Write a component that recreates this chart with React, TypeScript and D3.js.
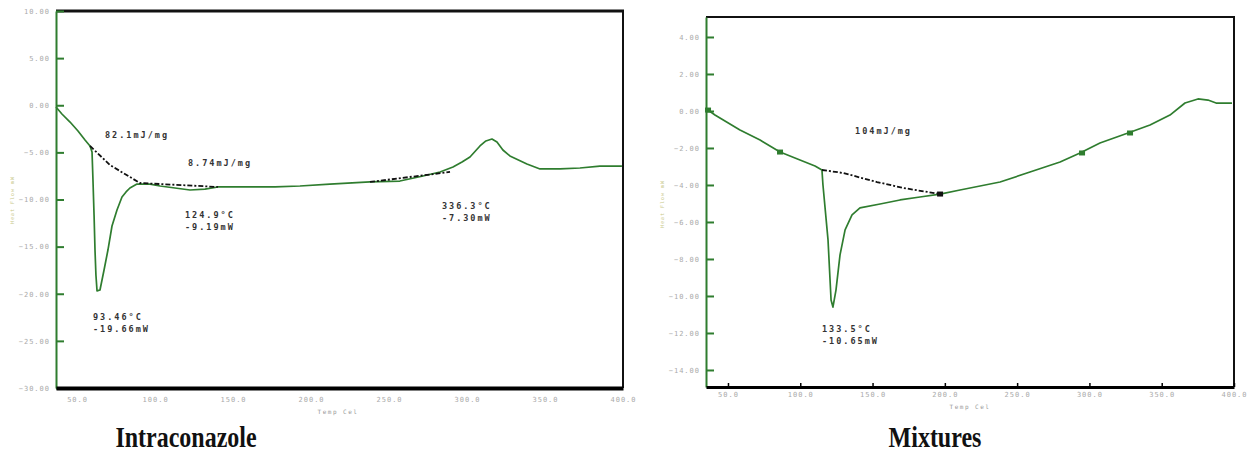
import * as d3 from "d3";
import React, { useEffect, useRef } from "react";

// Intraconazole DSC trace (temperature, heat flow)
const leftTemp = [36.5, 40.3, 45.5, 50.6, 55.1, 58.3, 59.6, 60.2, 60.9, 61.5, 62.1, 62.8, 64.7, 67.3, 69.8, 72.4, 75.6, 78.8, 81.4, 83.9, 88.4, 96.8, 103.2, 112.8, 122.4, 132.0, 140.3, 160.9, 176.9, 192.9, 212.1, 237.8, 257.0, 271.8, 282.7, 291.0, 296.8, 301.9, 308.3, 312.1, 316.0, 319.2, 323.0, 327.5, 338.4, 346.8, 359.6, 372.4, 385.2, 399.3];
const leftFlow = [-0.19, -0.93, -1.78, -2.73, -3.69, -4.32, -4.96, -7.93, -11.64, -15.36, -18.01, -19.7, -19.6, -17.48, -15.36, -12.81, -11.11, -9.73, -9.2, -8.78, -8.36, -8.36, -8.57, -8.78, -8.99, -8.89, -8.67, -8.67, -8.67, -8.57, -8.36, -8.14, -8.04, -7.51, -7.08, -6.55, -6.02, -5.49, -4.32, -3.79, -3.58, -3.9, -4.75, -5.38, -6.23, -6.76, -6.76, -6.66, -6.45, -6.45];
const leftBaseTemp = [58.3, 71.1, 90.3, 140.3];
const leftBaseFlow = [-4.32, -6.34, -8.25, -8.67];
const leftBase2Temp = [237.8, 289.1];
const leftBase2Flow = [-8.14, -7.08];

// Mixtures DSC trace
const rightTemp = [36.2, 41.0, 58.3, 72.2, 86.0, 99.8, 110.2, 115.0, 115.7, 119.2, 121.3, 122.6, 124.7, 127.5, 131.0, 135.8, 141.3, 155.2, 169.0, 182.8, 196.7, 210.5, 238.2, 258.9, 279.7, 293.5, 307.3, 326.7, 341.9, 355.7, 366.1, 375.1, 382.0, 387.6, 398.6];
const rightFlow = [0.05, -0.22, -1.03, -1.57, -2.22, -2.65, -2.97, -3.19, -4.0, -6.97, -10.22, -10.6, -9.68, -7.78, -6.43, -5.62, -5.24, -5.03, -4.81, -4.65, -4.49, -4.27, -3.84, -3.3, -2.76, -2.27, -1.73, -1.19, -0.76, -0.22, 0.43, 0.65, 0.59, 0.43, 0.43];
const rightBaseTemp = [115.0, 129.6, 153.1, 171.1, 196.7];
const rightBaseFlow = [-3.19, -3.35, -3.84, -4.16, -4.49];
const rightMarkTemp = [36.2, 86.0, 196.7, 294.9, 328.1];
const rightMarkFlow = [0.05, -2.22, -4.49, -2.27, -1.19];

// tick labels
const xTicks = [50, 100, 150, 200, 250, 300, 350, 400];
const leftYTicks = [10, 5, 0, -5, -10, -15, -20, -25, -30];
const rightYTicks = [4, 2, 0, -2, -4, -6, -8, -10, -12, -14];

// annotations: anchor in data units
const leftNotes = [
  { t: 67.9, f: -3.16, lines: ["82.1mJ/mg"] },
  { t: 121.1, f: -6.13, lines: ["8.74mJ/mg"] },
  { t: 119.2, f: -11.64, lines: ["124.9°C", "-9.19mW"] },
  { t: 60.2, f: -22.47, lines: ["93.46°C", "-19.66mW"] },
  { t: 283.9, f: -10.69, lines: ["336.3°C", "-7.30mW"] },
];
const rightNotes = [
  { t: 137.9, f: -1.08, lines: ["104mJ/mg"] },
  { t: 115.0, f: -11.78, lines: ["133.5°C", "-10.65mW"] },
];

const GREEN = "#2f7d2f";
const MONO = "DejaVu Sans Mono, monospace";

const zip = (a: number[], b: number[]) => a.map((v, i) => [v, b[i]] as [number, number]);

function drawPanel(svg: any, p: any) {
  const x = d3.scaleLinear().domain(p.xDomain).range([p.x0, p.x1]);
  const y = d3.scaleLinear().domain(p.yDomain).range([p.y1, p.y0]);
  const line = d3.line<[number, number]>().x(d => x(d[0])).y(d => y(d[1]));

  // frame top / right
  svg.append("line").attr("x1", p.x0).attr("x2", p.x1 + 1).attr("y1", p.y0).attr("y2", p.y0)
    .attr("stroke", "#111").attr("stroke-width", p.topW);
  svg.append("line").attr("x1", p.x1).attr("x2", p.x1).attr("y1", p.y0).attr("y2", p.y1)
    .attr("stroke", "#111").attr("stroke-width", 2);

  // y axis
  const ya = svg.append("g").attr("transform", `translate(${p.x0},0)`)
    .call(d3.axisLeft(y).tickValues(p.yTicks).tickSizeInner(-8).tickSizeOuter(0).tickPadding(6).tickFormat(d3.format(".2f")));
  ya.select(".domain").attr("stroke", GREEN).attr("stroke-width", 2);
  ya.selectAll(".tick line").attr("stroke", GREEN).attr("stroke-width", 2);
  ya.selectAll(".tick text").attr("fill", "#aaa").style("font-size", "7px").style("font-family", MONO).style("letter-spacing", "1px");

  // x axis
  const xa = svg.append("g").attr("transform", `translate(0,${p.y1})`)
    .call(d3.axisBottom(x).tickValues(xTicks).tickSizeInner(p.xTick).tickSizeOuter(0).tickPadding(p.xPad).tickFormat(d3.format(".1f")));
  xa.select(".domain").attr("stroke", "#000").attr("stroke-width", p.botW);
  xa.selectAll(".tick line").attr("stroke", "#000").attr("stroke-width", 1.5);
  xa.selectAll(".tick text").attr("fill", "#aaa").style("font-size", "7px").style("font-family", MONO).style("letter-spacing", "1px");

  // axis titles
  svg.append("text").attr("x", p.xTitle[0]).attr("y", p.xTitle[1]).attr("text-anchor", "middle")
    .attr("fill", "#999").style("font-size", "6px").style("font-family", MONO).style("letter-spacing", "1.5px")
    .text("Temp Cel");
  svg.append("text").attr("transform", `translate(${p.yTitle[0]},${p.yTitle[1]}) rotate(-90)`).attr("text-anchor", "middle")
    .attr("fill", "#c9c98a").style("font-size", "5px").style("font-family", MONO).style("letter-spacing", "1px")
    .text("Heat Flow mW");

  // curve
  svg.append("path").attr("d", line(zip(p.temp, p.flow))).attr("fill", "none")
    .attr("stroke", GREEN).attr("stroke-width", 1.7).attr("stroke-linejoin", "round");

  // integration baselines
  p.bases.forEach((b: any) => {
    svg.append("path").attr("d", line(zip(b[0], b[1]))).attr("fill", "none")
      .attr("stroke", "#111").attr("stroke-width", 1.8).attr("stroke-dasharray", "5,2,2,2");
  });

  // markers
  if (p.markT) {
    svg.selectAll(null).data(zip(p.markT, p.markF)).enter().append("rect")
      .attr("x", (d: any) => x(d[0]) - 3).attr("y", (d: any) => y(d[1]) - 2.5)
      .attr("width", 6).attr("height", 5).attr("fill", (d: any, i: number) => (i === 2 ? "#111" : GREEN));
  }

  // annotations
  p.notes.forEach((n: any) => {
    const t = svg.append("text").attr("x", x(n.t)).attr("y", y(n.f) + 3)
      .attr("fill", "#333").style("font-size", "8.5px").style("font-weight", "bold")
      .style("font-family", MONO).style("letter-spacing", "2px");
    n.lines.forEach((s: string, i: number) => {
      t.append("tspan").attr("x", x(n.t)).attr("dy", i === 0 ? 0 : 12).text(s);
    });
  });

  // panel title
  svg.append("text").attr("transform", `translate(${p.title[0]},${p.title[1]}) scale(1,1.25)`)
    .attr("text-anchor", "middle").attr("fill", "#111")
    .style("font-family", "Liberation Serif, Times New Roman, serif").style("font-weight", "bold")
    .style("font-size", `${p.title[3]}px`).text(p.title[2]);
}

const App = () => {
  const ref = useRef<HTMLDivElement>(null);

  useEffect(() => {
    const svg = d3.create("svg").attr("width", 1250).attr("height", 455)
      .style("position", "absolute").style("left", "0px").style("top", "0px").style("background", "#fff");

    drawPanel(svg, {
      x0: 56, x1: 623, y0: 11, y1: 388,
      xDomain: [36.5, 400], yDomain: [-30, 10], yTicks: leftYTicks,
      topW: 3, botW: 4, xTick: 0, xPad: 9,
      xTitle: [338, 414], yTitle: [14, 200],
      temp: leftTemp, flow: leftFlow,
      bases: [[leftBaseTemp, leftBaseFlow], [leftBase2Temp, leftBase2Flow]],
      notes: leftNotes,
      title: [186, 447, "Intraconazole", 24],
    });

    drawPanel(svg, {
      x0: 706, x1: 1234, y0: 17, y1: 387,
      xDomain: [34.8, 400], yDomain: [-14.92, 5.08], yTicks: rightYTicks,
      topW: 1.8, botW: 3, xTick: -4, xPad: 5,
      xTitle: [970, 409], yTitle: [664, 204],
      temp: rightTemp, flow: rightFlow,
      bases: [[rightBaseTemp, rightBaseFlow]],
      markT: rightMarkTemp, markF: rightMarkFlow,
      notes: rightNotes,
      title: [935, 447, "Mixtures", 24],
    });

    if (ref.current) {
      ref.current.innerHTML = "";
      ref.current.appendChild(svg.node()!);
    }
  }, []);

  return <div ref={ref}></div>;
};

export default App;
